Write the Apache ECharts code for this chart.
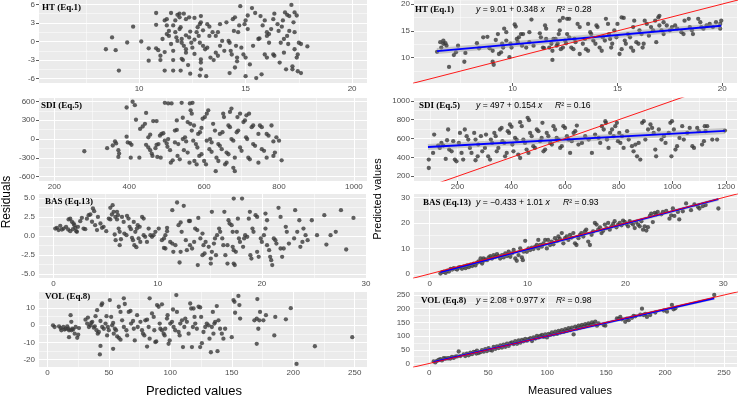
<!DOCTYPE html>
<html><head><meta charset="utf-8">
<script src="https://cdn.jsdelivr.net/npm/echarts@6/dist/echarts.min.js"></script>
<style>html,body{margin:0;padding:0;background:#fff}#c{width:739px;height:399px}</style>
</head><body><div id="c"></div>
<script>
// ---------- DATA ----------
const panelNames = ['HT (Eq.1)', 'SDI (Eq.5)', 'BAS (Eq.13)', 'VOL (Eq.8)'];
const eqIntercept = ['9.01', '497', '\u22120.433', '2.08'];
const eqSlope = ['0.348', '0.154', '1.01', '0.977'];
const r2Values = ['0.28', '0.16', '0.93', '0.98'];
const fitA = [9.01, 497, -0.433, 2.08];
const fitB = [0.348, 0.154, 1.01, 0.977];
const fitXRangeData = [[6.4, 19.95], [90, 1195], [1.1, 29.5], [3.7, 241.7]];

const residXTicks = [[10, 15, 20], [200, 400, 600, 800, 1000], [0, 10, 20, 30], [0, 50, 100, 150, 200, 250]];
const residYTicks = [[-6, -3, 0, 3, 6], [-600, -300, 0, 300, 600], [-5, -2.5, 0, 2.5, 5], [-20, -10, 0, 10]];
const fitXTicks = [[10, 15, 20], [200, 400, 600, 800, 1000, 1200], [0, 10, 20, 30], [0, 50, 100, 150, 200, 250]];
const fitYTicks = [[10, 15, 20], [200, 400, 600, 800, 1000], [0, 10, 20, 30], [0, 50, 100, 150, 200, 250]];
const residXLim = [[5.3, 20.7], [159, 1035], [-1.4, 30.1], [-6.8, 260]];
const residYLim = [[-6.7, 6.7], [-670, 655], [-5.5, 5.55], [-24.3, 19.4]];
const fitXLim = [[5.3, 20.7], [38, 1240], [-1.6, 31.4], [-13, 261]];
const fitYLim = [[5.3, 20.7], [150, 1030], [-1.6, 31.4], [-13, 261]];

const htResid = [[8.44,-1.25],[8.73,0.65],[8.9,-1.4],[9.05,-4.7],[9.44,-0.16],[9.72,2.4],[10.1,0],[10.45,-1.1],[10.45,-3.1],[10.8,4.6],[10.8,2.7],[10.8,-1.1],[10.9,-1.4],[11.0,-2.3],[11.0,-3.0],[11.1,0.4],[11.2,-4.7],[11.2,3.4],[11.3,3.6],[11.3,2.6],[11.4,1.7],[11.4,0.9],[11.5,4.6],[11.5,-0.4],[11.6,-3.0],[11.6,-4.7],[11.6,2.6],[11.7,3.4],[11.7,1.5],[11.75,0.65],[11.8,0.1],[11.8,4.3],[11.9,3.9],[11.9,4.5],[11.9,2.0],[11.95,2.3],[12,-0.2],[12,0.4],[12.1,-0.7],[12,-2.8],[12.06,-3.0],[12.1,4.5],[12.2,3.6],[12.2,-1.25],[12.2,-1.8],[11.95,-4.7],[12.4,1.6],[12.35,0.65],[12.45,-0.2],[12.5,-1.0],[12.35,3.9],[12.6,3.8],[12.4,-5.2],[12.6,-2.0],[12.7,1.5],[12.75,2.3],[12.85,2.8],[12.9,3.1],[12.8,0.9],[12.85,-0.2],[12.9,4.1],[12.9,-2.9],[12.9,-3.4],[12.9,-4.5],[12.85,-5.5],[13.0,-0.7],[13.1,-1.25],[13.15,-5.6],[13.2,2.8],[13.3,2.4],[13.3,0.9],[13.35,-2.6],[13.45,1.5],[13.5,-3.0],[13.6,-1.8],[13.6,0.9],[13.7,1.5],[13.8,2.8],[13.8,-0.7],[13.9,0.1],[14.0,-1.5],[14.1,3.1],[14.2,0.1],[14.25,-0.2],[14.25,-5.1],[14.3,-1.5],[14.35,-2.1],[14.4,3.6],[14.5,3.9],[14.45,1.7],[14.5,-4.2],[14.55,-0.7],[14.6,-2.6],[14.6,-3.2],[14.65,1.5],[14.7,2.6],[14.75,5.7],[14.9,-2.1],[14.95,2.8],[15.0,3.4],[15.0,-2.6],[15.0,-5.6],[15.1,2.0],[15.1,4.2],[15.2,-3.7],[15.3,5.4],[15.45,4.6],[15.35,-0.7],[15.5,-5.9],[15.6,0.4],[15.65,0.5],[15.7,4.1],[15.75,-5.3],[15.8,2.6],[15.9,3.4],[15.9,-2.1],[16.0,-2.6],[16.0,0.9],[16.0,1.5],[16.1,-0.2],[16.1,1.2],[16.2,2.0],[16.3,3.6],[16.3,-2.1],[16.35,-2.3],[16.35,4.5],[16.5,2.8],[16.55,1.7],[16.6,-3.4],[16.65,-0.2],[16.7,2.4],[16.75,3.4],[16.8,-1.8],[16.8,0.4],[16.85,4.7],[16.9,-4.5],[16.95,4.3],[17.05,4.1],[16.95,0.9],[17.05,1.7],[17.0,-0.4],[17.15,5.9],[17.2,-4.0],[17.2,-4.5],[17.25,3.1],[17.3,1.5],[17.3,-1.25],[17.3,4.7],[17.4,4.2],[17.4,-2.6],[17.45,-2.1],[17.45,-4.8],[17.6,-5.1],[17.5,-0.2],[17.6,-0.4],[17.9,-0.8],[11.3,1.2],[11.6,-1.5],[12.2,1.0],[12.6,0.3],[13.0,1.8],[13.2,-1.0],[11.2,-1.7],[12.3,-3.8],[13.7,-2.3],[14.8,-1.0]];

const htFit = [[6.4,11.1],[6.55,12.9],[6.6,11.9],[6.7,12.6],[6.7,13.2],[6.8,12.7],[6.85,12.25],[6.97,8.3],[7.2,10.5],[7.3,11.0],[7.4,12.25],[7.7,9.25],[7.75,10.9],[8.3,12.7],[8.4,11.75],[8.6,13.8],[8.8,13.9],[8.9,11.75],[9.05,9.25],[9.1,8.7],[9.05,11.3],[9.2,13.3],[9.3,14.4],[9.35,10.7],[9.45,11.0],[9.5,12.6],[9.55,11.9],[9.6,15.4],[9.7,14.75],[9.7,13.2],[9.85,10.1],[9.9,12.6],[9.95,11.9],[10.1,16.2],[10.15,15.8],[10.2,13.5],[10.25,12.9],[10.3,13.8],[10.4,14.4],[10.45,12.25],[10.5,14.4],[10.65,11.9],[10.8,14.75],[10.8,12.9],[10.9,17.1],[11.0,12.25],[11.3,14.55],[11.35,13.8],[11.45,11.9],[11.5,11.8],[11.55,16.0],[11.6,15.4],[11.6,13.5],[11.75,11.9],[11.85,12.6],[11.9,11.3],[11.9,9.6],[11.95,13.5],[12.05,13.5],[12.1,12.25],[12.15,12.6],[12.2,14.4],[12.25,15.1],[12.25,16.9],[12.4,17.4],[12.3,11.6],[12.4,11.9],[12.5,13.2],[12.55,12.7],[12.6,17.25],[12.7,17.25],[12.6,14.4],[12.7,13.8],[12.8,11.9],[12.9,11.6],[12.95,13.5],[13.0,12.9],[13.1,16.3],[13.2,15.7],[13.2,10.7],[13.35,12.6],[13.45,13.5],[13.5,11.6],[13.6,11.3],[13.6,16.3],[13.7,14.75],[13.75,14.4],[13.85,13.2],[13.95,12.6],[14.0,16.0],[14.05,15.7],[14.15,11.9],[14.25,11.3],[14.3,13.8],[14.4,13.2],[14.45,17.25],[14.55,16.3],[14.6,14.4],[14.65,13.5],[14.7,11.9],[14.75,12.6],[14.85,15.1],[14.95,13.8],[15.0,16.3],[15.1,10.7],[15.2,11.6],[15.2,17.5],[15.3,17.4],[15.35,13.2],[15.4,12.6],[15.5,14.4],[15.6,13.8],[15.65,11.9],[15.75,11.3],[15.75,15.7],[15.8,16.9],[15.9,12.9],[16.0,12.6],[16.05,15.1],[16.15,14.4],[16.2,11.9],[16.25,12.6],[16.3,16.9],[16.4,16.3],[16.5,14.1],[16.6,15.7],[16.7,15.1],[16.8,16.9],[16.85,12.9],[16.95,17.5],[17.0,17.8],[17.0,16.0],[17.1,15.1],[17.2,14.4],[17.2,16.6],[17.35,16.0],[17.5,15.1],[17.6,15.7],[17.75,16.0],[17.85,15.4],[18.05,14.75],[18.15,14.4],[18.2,16.9],[18.4,17.25],[18.45,15.7],[18.55,15.1],[18.6,14.4],[18.85,17.25],[18.95,16.6],[19.0,15.7],[19.1,15.4],[19.25,16.0],[19.4,16.3],[19.55,15.7],[19.7,16.6],[19.9,16.3],[19.95,16.9],[19.9,15.4]];

const sdiResid = [[280,-195],[341,-146],[356,-103],[362,-38],[365,-70],[371,-178],[373,-232],[371,-286],[393,503],[393,38],[396,-54],[402,-65],[406,-92],[404,-297],[409,595],[415,541],[418,308],[427,-297],[429,162],[436,200],[442,243],[445,-92],[451,-135],[456,-178],[445,416],[451,27],[456,70],[460,-232],[462,-270],[464,286],[473,286],[470,-146],[473,-92],[478,-81],[475,-286],[484,-297],[482,54],[486,81],[491,92],[495,578],[504,568],[495,-27],[500,-70],[502,-124],[504,0],[509,-178],[511,-378],[516,-340],[513,568],[527,297],[522,135],[527,146],[522,-54],[531,-81],[529,-270],[535,-324],[540,578],[543,340],[543,0],[549,27],[552,-38],[546,-178],[556,-216],[556,270],[563,243],[561,-378],[562,568],[569,578],[564,459],[567,405],[567,135],[573,216],[571,-27],[578,-81],[582,-135],[574,-351],[580,-405],[584,81],[589,108],[593,178],[587,-270],[593,-243],[596,324],[602,351],[600,-351],[605,-405],[607,405],[611,459],[607,-27],[616,0],[620,-54],[614,-162],[620,-205],[624,243],[629,135],[631,-513],[633,-297],[638,-351],[638,-81],[642,-108],[647,-162],[642,81],[649,108],[651,405],[653,351],[656,-405],[660,-378],[660,-216],[665,-243],[665,216],[669,189],[669,432],[673,486],[673,0],[678,-27],[678,-459],[682,-513],[682,-297],[687,108],[691,135],[689,351],[696,405],[696,-135],[700,-189],[705,270],[709,297],[712,27],[715,0],[713,378],[720,405],[718,-297],[722,-324],[727,189],[731,216],[731,-81],[736,-108],[745,81],[749,216],[754,189],[754,-162],[760,-189],[767,81],[772,54],[745,-378],[767,-297],[785,-270],[789,-216],[793,27],[800,-27],[807,-340],[780,216],[785,-38]];

const sdiFit = [[93,377],[93,288],[109,448],[113,642],[128,526],[134,501],[140,554],[147,526],[156,384],[161,582],[165,696],[169,483],[178,465],[184,572],[190,377],[196,359],[205,554],[209,660],[215,448],[221,377],[227,696],[234,625],[240,589],[246,501],[252,448],[262,660],[267,589],[267,370],[275,412],[277,536],[287,625],[292,465],[302,501],[306,642],[314,412],[321,377],[324,589],[329,554],[337,660],[342,625],[346,465],[352,501],[358,696],[364,713],[367,572],[374,554],[377,412],[383,448],[387,678],[392,660],[395,749],[401,724],[404,536],[408,465],[414,607],[420,589],[426,430],[433,394],[433,774],[439,731],[445,589],[451,554],[457,483],[464,448],[461,820],[466,795],[470,660],[476,625],[482,519],[488,501],[495,696],[501,678],[507,572],[513,607],[516,767],[520,465],[526,483],[532,660],[538,625],[545,554],[551,536],[557,731],[563,696],[569,607],[576,589],[582,501],[588,519],[594,731],[600,713],[607,625],[613,589],[619,448],[625,572],[632,660],[638,678],[644,738],[650,536],[663,554],[675,625],[688,589],[700,448],[712,642],[725,607],[731,554],[737,731],[744,696],[750,784],[752,767],[756,589],[762,501],[768,660],[775,696],[781,625],[787,731],[793,767],[797,572],[802,660],[806,554],[812,625],[818,501],[831,678],[837,589],[849,519],[855,465],[862,536],[868,412],[874,554],[880,377],[887,767],[893,784],[899,589],[909,696],[918,749],[924,713],[930,660],[936,483],[939,412],[949,696],[959,589],[968,625],[974,554],[986,660],[992,767],[998,784],[996,412],[1005,696],[1011,483],[1017,519],[1026,607],[1036,731],[1042,589],[1055,660],[1064,713],[1074,519],[1080,501],[1092,713],[1098,678],[1110,536],[1117,572],[1129,731],[1123,678],[1148,589],[1166,589],[1195,685],[1120,731]];

const basResid = [[0.16,1.0],[0.32,1.1],[0.48,0.8],[0.64,1.36],[0.8,0.88],[0.96,1.0],[1.2,1.23],[1.4,0.88],[1.6,0.66],[1.44,2.2],[1.6,2.3],[1.76,1.9],[1.92,1.67],[2.0,1.45],[1.86,0.92],[2.08,1.1],[2.18,0.66],[2.24,0.57],[2.34,1.23],[2.56,1.97],[2.72,2.41],[2.88,1.0],[3.04,0.92],[3.2,2.3],[3.37,2.76],[3.53,2.85],[3.69,1.9],[3.78,3.64],[3.9,3.29],[3.99,1.45],[4.17,0.8],[4.26,2.54],[4.5,1.67],[4.65,1.1],[4.8,1.23],[5.06,0.66],[5.3,2.32],[5.45,2.2],[5.45,3.73],[5.67,4.08],[5.6,2.85],[5.77,3.2],[5.93,2.54],[6.09,2.2],[5.87,0.22],[5.96,-0.53],[6.09,3.2],[6.19,2.76],[6.25,1.0],[6.35,0.57],[6.35,-1.18],[6.47,-0.4],[6.57,2.54],[6.73,1.88],[6.8,0.35],[7.0,0.13],[7.05,2.68],[7.2,2.32],[7.3,1.23],[7.43,0.92],[7.53,-0.22],[7.63,-0.53],[7.7,1.88],[7.76,-1.18],[7.95,-1.45],[7.85,0.57],[8.0,1.0],[8.08,1.45],[8.27,1.23],[8.17,-0.3],[8.33,-0.75],[8.5,2.54],[8.65,2.32],[8.65,0.13],[8.8,-0.09],[8.97,-0.75],[9.13,1.0],[9.3,0.13],[9.45,-0.09],[9.6,0.13],[9.78,0.57],[10.1,1.0],[10.4,-0.53],[10.6,-0.3],[10.6,-1.54],[10.74,-1.62],[10.74,0.13],[10.9,0.66],[10.9,1.1],[11.2,-0.75],[11.4,-0.97],[11.4,3.42],[11.86,4.43],[12.5,3.99],[11.5,-2.06],[11.7,-1.18],[12.0,1.45],[12.2,1.8],[12.1,-3.46],[12.2,-2.06],[12.3,0.57],[12.7,-0.53],[12.8,-1.84],[13.0,2.0],[13.1,2.0],[13.1,-1.18],[13.3,-1.62],[13.5,-0.75],[13.6,1.0],[13.8,0.8],[13.85,-3.8],[13.9,2.4],[14.1,-0.3],[14.3,0.35],[14.3,-2.5],[14.5,-2.28],[14.4,-1.18],[14.6,-0.75],[14.9,-1.4],[15.1,-2.94],[15.1,-3.6],[15.2,-2.06],[15.2,3.2],[15.4,-0.97],[15.5,-0.3],[15.6,-2.5],[15.7,0.13],[15.9,1.0],[16.0,0.57],[16.2,-0.3],[16.3,-1.18],[16.4,3.2],[16.5,-2.5],[16.7,-3.6],[16.7,-1.18],[16.8,2.1],[16.9,1.67],[17.1,1.45],[17.2,0.57],[17.2,-1.4],[17.3,-1.84],[17.3,4.95],[17.3,-3.6],[17.4,-3.8],[17.5,-2.06],[17.6,0.57],[17.7,2.3],[17.8,-0.3],[17.9,-0.75],[18.1,4.95],[18.2,-1.4],[18.3,-0.3],[18.4,0.13],[18.6,-0.09],[18.75,2.3],[18.85,3.2],[18.9,-2.5],[19.0,-2.94],[19.1,1.0],[19.2,0.57],[19.4,2.76],[19.55,2.54],[19.55,-2.06],[19.7,-2.72],[19.9,-0.3],[20.0,-0.75],[20.2,0.13],[20.35,1.0],[20.35,2.98],[20.5,2.1],[20.5,-1.18],[20.7,-1.84],[20.8,-2.72],[20.9,-3.16],[21.0,-3.8],[21.15,-0.3],[21.3,-0.53],[21.4,-0.97],[21.6,3.73],[21.8,2.54],[21.8,-1.62],[21.95,-2.72],[22.1,-1.62],[22.3,1.23],[22.4,0.57],[22.6,-0.97],[23.1,-0.3],[23.2,3.42],[23.4,0.57],[23.6,2.1],[23.7,-1.4],[23.9,-0.75],[24.0,1.0],[24.2,0.13],[24.4,-0.53],[24.8,2.1],[25.3,0.13],[26.0,2.76],[26.2,-1.1],[26.6,0.13],[27.1,0.57],[27.6,3.42],[28.1,-1.75],[28.8,2.4]];

const basFit = [[1.1,0.13],[1.3,0.67],[1.46,0.93],[1.63,0.4],[1.8,1.33],[1.97,0.93],[2.14,2.0],[2.3,1.73],[2.47,2.27],[2.64,2.0],[2.8,1.73],[2.98,2.53],[3.15,2.67],[3.3,2.0],[3.5,2.93],[3.66,2.27],[3.83,3.33],[4.0,2.67],[4.17,3.6],[4.34,3.07],[4.5,4.0],[4.68,3.33],[4.85,4.4],[5.0,4.93],[5.2,4.73],[5.36,4.07],[5.5,5.13],[5.7,5.67],[5.2,6.07],[5.5,6.07],[5.86,5.4],[6.03,6.47],[6.2,7.0],[6.37,6.07],[6.54,7.4],[6.7,6.73],[6.88,7.8],[7.05,7.0],[7.2,6.07],[7.4,7.4],[7.56,6.47],[7.73,8.07],[7.9,7.0],[8.07,8.73],[8.24,6.73],[8.4,8.07],[8.58,9.4],[8.75,6.07],[8.9,5.13],[9.08,7.4],[9.25,10.07],[9.42,6.47],[9.52,5.4],[9.76,13.0],[9.6,8.73],[9.93,8.7],[10.1,10.03],[10.27,9.37],[10.44,10.3],[10.6,9.77],[10.78,10.7],[10.95,11.37],[11.1,10.03],[11.3,11.37],[11.46,10.7],[11.63,12.03],[11.1,13.37],[11.8,13.37],[12.1,13.37],[11.97,10.03],[12.3,11.37],[12.47,12.7],[12.64,11.63],[12.8,14.03],[13.0,12.97],[13.15,14.7],[13.3,13.77],[13.5,16.03],[13.66,12.03],[13.83,14.03],[14.0,14.7],[14.17,13.37],[14.34,15.37],[14.5,14.3],[14.68,16.03],[14.85,12.03],[15.0,11.37],[15.2,14.03],[15.36,15.37],[15.5,16.03],[15.7,14.7],[15.86,16.7],[16.0,17.37],[16.2,12.7],[16.37,11.37],[16.54,15.37],[16.7,16.7],[16.88,20.03],[17.05,19.37],[17.22,17.37],[17.4,18.3],[17.56,16.03],[17.73,16.97],[17.9,19.37],[18.07,18.03],[18.24,20.03],[18.4,17.37],[18.58,18.7],[18.75,19.63],[18.9,20.7],[19.08,18.3],[19.25,19.37],[19.42,20.03],[19.6,19.1],[19.76,20.97],[19.93,20.43],[20.1,19.63],[20.27,18.7],[20.44,20.7],[20.6,20.03],[20.78,19.37],[20.95,18.03],[21.1,20.43],[21.3,19.37],[21.46,18.7],[21.63,20.7],[21.8,17.37],[21.97,18.7],[22.14,17.03],[22.3,18.37],[22.5,22.77],[22.64,23.7],[22.8,20.37],[23.0,23.97],[23.15,23.43],[23.3,24.37],[23.66,23.43],[23.83,24.37],[24.17,24.77],[24.5,21.7],[24.68,23.03],[24.85,25.7],[25.0,22.77],[25.36,24.37],[25.5,21.43],[25.86,24.63],[26.2,27.7],[26.7,25.03],[27.05,27.3],[27.4,26.37],[27.56,25.7],[27.9,26.63],[28.2,27.03],[29.5,25.7]];

const volResid = [[4.6,0],[5.9,-1.0],[9.5,-0.6],[10.8,-1.6],[11.4,-2.9],[13,-1.0],[14,-2.5],[14.9,-2.0],[16.2,-0.6],[17,-2.0],[17.6,-2.9],[17.6,-6.9],[18.9,5.9],[19.5,2.0],[19.5,-2.9],[20.3,-2.0],[21,-2.5],[22.2,-4.9],[23,-1.0],[24.3,-7.3],[25.1,-5.5],[25.7,-1.6],[31,3.3],[32.4,1.0],[33,4.5],[33.8,-1.0],[35.1,0],[35.7,1.4],[36.5,2.0],[37.8,-1.4],[38.6,-0.6],[39.2,5.3],[40.5,8.8],[40,-2.9],[41,-4.9],[41.9,-3.9],[42.7,-17],[43.2,-12],[43.2,2.5],[44,11.8],[44.6,12.7],[44.6,-1.0],[45.9,-2.0],[47.3,1.0],[48.1,5.3],[48.6,-5.9],[49.2,-1.0],[50,-2.9],[50.8,14.7],[51.9,4.9],[52.7,0],[53.5,1.4],[53.5,-13.7],[54,-4.9],[54.9,-2.0],[55.9,-2.9],[56.8,-6.5],[58.1,-7.3],[59.5,-8.4],[58.1,10.8],[59.5,7.8],[60.8,2.9],[62.2,15.7],[63,12.4],[62.2,-1.0],[64.3,-2.9],[64.9,-5.9],[66.2,7.8],[67.6,8.4],[68.1,1.0],[69.7,2.5],[70.3,-2.0],[71.1,-8.8],[73,5.9],[73.5,-1.0],[75.7,2.0],[77,-2.9],[77.8,-4.9],[78.9,-5.9],[79.7,2.9],[81.1,3.3],[81.1,-12.4],[82.4,-1.0],[83.2,-7.8],[83.2,15.7],[85.1,6.9],[86.5,4.9],[87,-2.9],[87.8,-9.8],[88.6,-9.4],[89.2,11.8],[90.5,10.8],[91.4,1.0],[91.9,-2.0],[93.2,-2.9],[93.2,12.2],[94.6,-4.9],[95.4,-5.9],[95.9,-2.0],[97.3,3.9],[97.8,5.9],[98.6,-10.8],[99.5,-8.8],[100,1.0],[101.4,2.0],[102.2,9.2],[102.7,-1.0],[104,-2.9],[104.9,17.6],[105.4,7.8],[106.8,-3.9],[107.6,-5.9],[108.1,1.0],[109.5,2.9],[110.3,-12.7],[111.4,-1.0],[112.2,3.9],[113.5,2.0],[114.9,-4.9],[116.2,12.7],[117,9.8],[117.6,-12.7],[118.4,-1.0],[118.9,9.8],[119.7,4.9],[120.3,1.0],[121.6,-2.0],[123,10.8],[124.3,10.4],[125.1,4.9],[124.3,-12.7],[125.7,-10.4],[127,-3.9],[128.4,-1.0],[129.7,1.0],[131.1,0],[131.9,-7.8],[133,-15.7],[133.8,-1.0],[134.6,7.8],[135.1,-4.9],[135.9,1.0],[136.5,2.0],[137.8,11.2],[138.4,-15.1],[139.2,2.9],[140.5,-2.0],[141.9,-4.9],[143.2,-7.8],[144.6,-2.0],[150,-6.9],[151.4,14.7],[152.2,13.7],[152.7,7.3],[155.4,17.1],[156.2,11.8],[156.8,3.9],[168.4,2.9],[170.3,3.9],[170.3,-10.8],[170.8,15.3],[171.6,-2.0],[172.4,2.9],[173,7.8],[175.7,2.9],[177.8,5.9],[184.6,-5.9],[185.4,4.9],[194,3.5],[198,10],[202.7,-22.5],[217.6,-12.2],[248,-6.9]];

const volFit = [[3.7,7.3],[5.1,3.6],[6.5,9.7],[7.9,13.3],[9.3,15.8],[10.7,10.9],[12.2,19.4],[13.6,18],[15,18.2],[16.4,19],[17.8,18],[19.2,24],[20.6,20],[22.1,25],[23.5,25.5],[24.9,43.7],[26.3,27],[29.1,33],[30.5,27],[31.9,36],[33.4,30],[34.8,39],[36.2,34],[37.6,42],[39,41],[39.9,36],[40.4,47],[41.8,38],[43.3,41],[44.7,49],[46.1,43],[47.5,52],[48.9,45],[50.3,56],[51.7,49],[53.2,47],[54.6,60],[56,53],[57.4,62],[58.8,56],[60.2,66],[61.6,58],[63,69],[64.5,61],[65.9,72],[67.3,64],[68.7,74],[70.1,77],[71.5,71],[72.9,81],[74.4,72],[75.8,84],[77.2,76],[78.6,86],[80,81],[81.4,90],[82.8,83],[84.2,89],[85.7,92],[87.1,82],[88.5,95],[89.9,91],[91.3,101],[92.7,95],[94.1,101],[95.6,104],[97,97],[98.4,106],[99.8,95],[101.2,108],[102.6,104],[104,113],[105.5,106],[106.9,116],[108.3,108],[109.7,119],[111.1,113],[112.5,122],[114,115],[115.4,125],[116.8,119],[118.2,129],[119.6,122],[121,131],[122.4,106],[123.8,134],[125.2,128],[126.7,138],[128.1,132],[129.5,141],[130.9,134],[132.3,144],[133.7,138],[135.1,146],[136.6,141],[138,150],[139.4,144],[140.8,153],[142.2,138],[143.6,146],[147.9,140],[149.3,138],[159.2,165],[160.6,163],[162,170],[163.4,161],[166.2,152],[167.7,164],[169.1,158],[171.9,167],[173.3,174],[174.7,172],[179,178],[180.4,200],[181.8,177],[183.2,181],[184.6,170],[187.4,177],[191.7,186],[198.8,193],[201.6,189.3],[205.8,213.6],[207.2,197.8],[208.7,201.5],[241.7,250]];

const residData = [htResid, sdiResid, basResid, volResid];
const fitData = [htFit, sdiFit, basFit, volFit];

// ---------- LAYOUT ----------
const colLeft = [39, 414], colWidth = [328, 323];
const rowTop = [0, 98, 194, 292], rowHeight = [83, 83, 84, 75];
const labelPos = [[[42, 7.5], [415, 10]], [[41, 106], [419, 106]], [[45, 202], [423, 203]], [[45, 297], [421, 301]]];
const r2X = [556, 555, 563, 556];
const SANS = '"Liberation Sans", Arial, sans-serif';
const SERIF = '"Liberation Serif", "Times New Roman", serif';

function minors(ticks, lim) {
  const step = ticks[1] - ticks[0], out = [];
  for (let v = ticks[0] - step / 2; v <= lim[1]; v += step) if (v >= lim[0]) out.push(+v.toFixed(6));
  return out;
}
function axisDef(idx, lim, ticks, decimals, isX) {
  return {
    type: 'value', gridIndex: idx, min: lim[0], max: lim[1], z: 0,
    axisLine: { show: false },
    axisTick: { show: true, customValues: ticks, length: 3, lineStyle: { color: '#333', width: 0.8 } },
    axisLabel: { show: true, customValues: ticks, margin: isX ? 2 : 4, color: '#4D4D4D', fontSize: 8, fontFamily: SANS,
      formatter: v => decimals ? v.toFixed(decimals) : String(v) },
    splitLine: { show: false }
  };
}

const grids = [], xAxes = [], yAxes = [], series = [], graphics = [];
for (let r = 0; r < 4; r++) {
  for (let c = 0; c < 2; c++) {
    const idx = r * 2 + c;
    grids.push({ left: colLeft[c], top: rowTop[r], width: colWidth[c], height: rowHeight[r], z: 0,
      show: true, backgroundColor: '#EBEBEB', borderWidth: 0, containLabel: false });
    const xl = c ? fitXLim[r] : residXLim[r], yl = c ? fitYLim[r] : residYLim[r];
    const xt = c ? fitXTicks[r] : residXTicks[r], yt = c ? fitYTicks[r] : residYTicks[r];
    xAxes.push(axisDef(idx, xl, xt, 0, true));
    yAxes.push(axisDef(idx, yl, yt, (!c && r === 2) ? 1 : 0, false));
    const gl = [];
    xt.forEach(v => gl.push({ xAxis: v, lineStyle: { width: 1.1 } }));
    minors(xt, xl).forEach(v => gl.push({ xAxis: v, lineStyle: { width: 0.5 } }));
    yt.forEach(v => gl.push({ yAxis: v, lineStyle: { width: 1.1 } }));
    minors(yt, yl).forEach(v => gl.push({ yAxis: v, lineStyle: { width: 0.5 } }));
    series.push({ type: 'line', xAxisIndex: idx, yAxisIndex: idx, data: [], z: 1, silent: true,
      markLine: { silent: true, z: 1, symbol: ['none', 'none'], label: { show: false }, animation: false,
        lineStyle: { color: '#FFFFFF', type: 'solid' }, emphasis: { disabled: true }, data: gl } });
    series.push({ type: 'scatter', xAxisIndex: idx, yAxisIndex: idx, data: c ? fitData[r] : residData[r],
      symbolSize: 4.3, itemStyle: { color: '#3A3A3A' }, z: 20, silent: true });
    if (c) {
      const fx = fitXRangeData[r];
      const fitLine = fx.map(x => [x, fitA[r] + fitB[r] * x]);
      series.push({ type: 'line', xAxisIndex: idx, yAxisIndex: idx, data: fitLine, symbol: 'none', z: 21, silent: true,
        lineStyle: { color: 'rgba(150,150,150,0.45)', width: r < 2 ? 6 : 3 } });
      series.push({ type: 'line', xAxisIndex: idx, yAxisIndex: idx, data: fitLine, symbol: 'none', z: 22, silent: true,
        lineStyle: { color: '#0000FF', width: 1.9 } });
      const lo = Math.min(xl[0], yl[0]) - 1000, hi = Math.max(xl[1], yl[1]) + 1000;
      series.push({ type: 'line', xAxisIndex: idx, yAxisIndex: idx, data: [[lo, lo], [hi, hi]], symbol: 'none', z: 23,
        silent: true, clip: true, lineStyle: { color: '#FF0000', width: 0.9 } });
    }
    const lp = labelPos[r][c];
    graphics.push({ type: 'text', x: lp[0], y: lp[1], z: 100, style: { text: panelNames[r], fontFamily: SERIF,
      fontWeight: 'bold', fontSize: 9, fill: '#000', verticalAlign: 'middle' } });
    if (c) {
      graphics.push({ type: 'text', x: 476, y: lp[1], z: 100, style: {
        text: '{i|y} = ' + eqIntercept[r] + ' + ' + eqSlope[r] + ' {i|x}',
        rich: { i: { fontStyle: 'italic', fontFamily: SANS, fontSize: 8.6, fill: '#000' } },
        fontFamily: SANS, fontSize: 8.6, fill: '#000', verticalAlign: 'middle' } });
      graphics.push({ type: 'text', x: r2X[r], y: lp[1], z: 100, style: {
        text: '{i|R}\u00B2 = ' + r2Values[r],
        rich: { i: { fontStyle: 'italic', fontFamily: SANS, fontSize: 8.6, fill: '#000' } },
        fontFamily: SANS, fontSize: 8.6, fill: '#000', verticalAlign: 'middle' } });
    }
  }
}
graphics.push({ type: 'text', x: 7, y: 202, rotation: Math.PI / 2, style: { text: 'Residuals', fontFamily: SANS, fontSize: 12, fill: '#000', align: 'center', verticalAlign: 'middle' } });
graphics.push({ type: 'text', x: 194, y: 391, style: { text: 'Predicted values', fontFamily: SANS, fontSize: 13, fill: '#000', align: 'center', verticalAlign: 'middle' } });
graphics.push({ type: 'text', x: 378, y: 199, rotation: Math.PI / 2, style: { text: 'Predicted values', fontFamily: SANS, fontSize: 11, fill: '#000', align: 'center', verticalAlign: 'middle' } });
graphics.push({ type: 'text', x: 570, y: 391, style: { text: 'Measured values', fontFamily: SANS, fontSize: 11, fill: '#000', align: 'center', verticalAlign: 'middle' } });

const chart = echarts.init(document.getElementById('c'), null, { renderer: 'canvas' });
chart.setOption({ animation: false, backgroundColor: '#FFFFFF', grid: grids, xAxis: xAxes, yAxis: yAxes, series: series, graphic: graphics });
</script></body></html>
